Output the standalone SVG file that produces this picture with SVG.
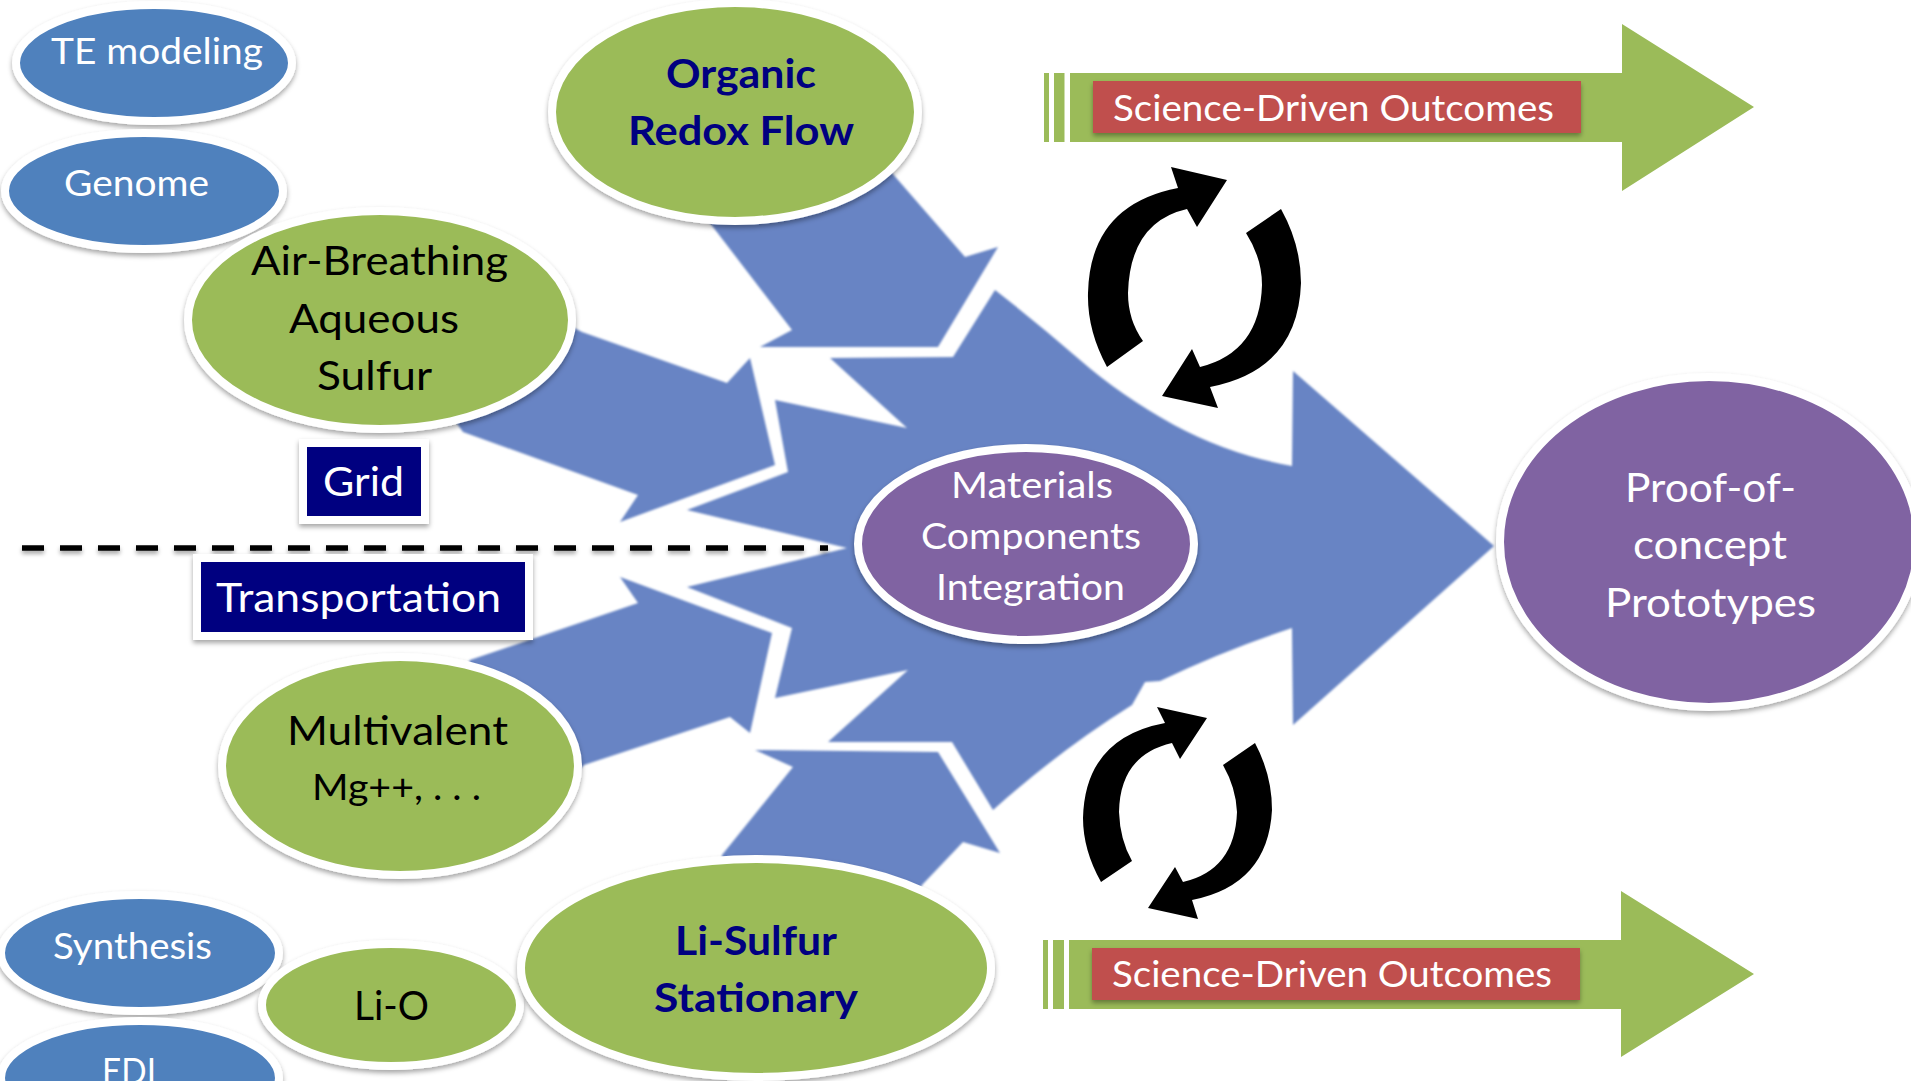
<svg xmlns="http://www.w3.org/2000/svg" width="1911" height="1081" viewBox="0 0 1911 1081">
<defs>
<filter id="sh" x="-15%" y="-15%" width="130%" height="135%"><feDropShadow dx="0" dy="3" stdDeviation="2.5" flood-color="#000" flood-opacity="0.35"/></filter>
<filter id="shl" filterUnits="userSpaceOnUse" x="0" y="530" width="900" height="40"><feDropShadow dx="0" dy="3" stdDeviation="2" flood-color="#000" flood-opacity="0.35"/></filter>
<filter id="soft" x="-5%" y="-5%" width="110%" height="110%"><feGaussianBlur stdDeviation="1"/></filter>
</defs>
<style>
text{font-family:Lato,"Liberation Sans",sans-serif;font-size:40px}
.s{font-size:36px}
.w{fill:#fff}
.k{fill:#000}
.n{fill:#000080;font-weight:700}
.e{stroke:#fff;stroke-width:8;filter:url(#sh)}
.g{fill:#9BBB59}
.b{fill:#4F81BD}
.p{fill:#8064A2}
.blue{fill:#6784C4}
.tag{fill:#000080;stroke:#fff;stroke-width:8;filter:url(#sh)}
.red{fill:#C0504D;filter:url(#sh)}
.cy{fill:#000}
</style>
<rect width="1911" height="1081" fill="#fff"/>
<g id="connectors">
<g filter="url(#soft)">
<path class="blue" d="M700 210L792 330L760 347L938 347L998 247L965 257L885 165Z"/>
<path class="blue" d="M540 310L582 332L727 383L750 358L775 465L620 522L638 495L463 432L440 400Z"/>
<path class="blue" d="M620 577L638 603L470 660L450 700L560 790L584 765L730 717L750 733L772 633Z"/>
<path class="blue" d="M755 750L938 752L1000 853L963 842L922 885L900 920L722 920L722 855L793 767Z"/>
<path class="blue" d="M995 290Q1040 325 1080 360Q1120 395 1174 425Q1230 455 1292 466L1293 371L1494 546L1293 725L1292 628Q1225 650 1160 681L1145 682L1132 705Q1060 750 993 810L952 742L828 742L908 670L775 698L792 628L687 587L847 548L687 510L788 472L775 400L907 428L830 358L953 357Z"/>
</g>
<line x1="22" y1="548" x2="828" y2="548" stroke="#000" stroke-width="5.5" stroke-dasharray="22 16" filter="url(#shl)"/>
</g>
<g id="outcome-top">
<rect class="g" x="1044" y="73" width="5" height="69"/>
<rect class="g" x="1054" y="73" width="10.500" height="69"/>
<path class="g" d="M1070 73H1622V24L1754 107L1622 191V142H1070Z"/>
<rect class="red" x="1093" y="81" width="488" height="52"/>
<text class="w s" x="1113" y="121" textLength="441" lengthAdjust="spacingAndGlyphs">Science-Driven Outcomes</text>
</g>
<g id="outcome-bottom">
<rect class="g" x="1043" y="940" width="5" height="69"/>
<rect class="g" x="1053" y="940" width="11" height="69"/>
<path class="g" d="M1069 940H1621V891L1754 974L1621 1057V1009H1069Z"/>
<rect class="red" x="1092" y="948" width="488" height="52"/>
<text class="w s" x="1112" y="987" textLength="440" lengthAdjust="spacingAndGlyphs">Science-Driven Outcomes</text>
</g>
<g id="cycle-top">
<path class="cy" d="M1107 367Q1087 330 1088 293Q1090 205 1178 188L1171 167L1227 180L1197 227L1187 209Q1130 222 1128 293Q1128 320 1143 341Z"/>
<path class="cy" d="M1281 209Q1301 245 1301 283Q1298 370 1210 387L1218 408L1162 396L1192 349L1200 367Q1260 352 1262 285Q1262 258 1246 233Z"/>
</g>
<g id="cycle-bottom">
<path class="cy" d="M1101 882Q1083 850 1083 818Q1085 738 1165 723L1157 707L1207 718L1180 759L1172 743Q1120 755 1119 812Q1120 840 1132 861Z"/>
<path class="cy" d="M1255 743Q1272 775 1272 810Q1268 885 1192 900L1198 919L1148 908L1175 867L1183 882Q1235 870 1237 812Q1236 788 1223 765Z"/>
</g>
<g id="te-modeling">
<ellipse class="e b" cx="154" cy="63" rx="138" ry="58"/>
<text class="w s" x="51" y="64" textLength="212" lengthAdjust="spacingAndGlyphs">TE modeling</text>
</g>
<g id="genome">
<ellipse class="e b" cx="144" cy="191" rx="139" ry="58"/>
<text class="w s" x="64" y="196" textLength="145" lengthAdjust="spacingAndGlyphs">Genome</text>
</g>
<g id="organic-redox-flow">
<ellipse class="e g" cx="735" cy="112" rx="183" ry="109"/>
<text class="n" x="666" y="88" textLength="150" lengthAdjust="spacingAndGlyphs">Organic</text>
<text class="n" x="628" y="145" textLength="226" lengthAdjust="spacingAndGlyphs">Redox Flow</text>
</g>
<g id="air-breathing">
<ellipse class="e g" cx="380" cy="320" rx="192" ry="109"/>
<text class="k" x="251" y="275" textLength="257" lengthAdjust="spacingAndGlyphs">Air-Breathing</text>
<text class="k" x="289" y="333" textLength="170" lengthAdjust="spacingAndGlyphs">Aqueous</text>
<text class="k" x="317" y="390" textLength="115" lengthAdjust="spacingAndGlyphs">Sulfur</text>
</g>
<g id="grid">
<rect class="tag" x="303" y="443" width="122" height="77"/>
<text class="w" x="323" y="496" textLength="81" lengthAdjust="spacingAndGlyphs">Grid</text>
</g>
<g id="transportation">
<rect class="tag" x="197" y="558" width="332" height="78"/>
<text class="w" x="216" y="612" textLength="285" lengthAdjust="spacingAndGlyphs">Transportation</text>
</g>
<g id="multivalent">
<ellipse class="e g" cx="400" cy="766" rx="178" ry="109"/>
<text class="k" x="287" y="745" textLength="221" lengthAdjust="spacingAndGlyphs">Multivalent</text>
<text class="k s" x="312" y="800" textLength="169" lengthAdjust="spacingAndGlyphs">Mg++, . . .</text>
</g>
<g id="synthesis">
<ellipse class="e b" cx="140" cy="953" rx="139" ry="58"/>
<text class="w s" x="53" y="959" textLength="159" lengthAdjust="spacingAndGlyphs">Synthesis</text>
</g>
<g id="edi">
<ellipse class="e b" cx="140" cy="1078" rx="139" ry="57"/>
<text class="w s" x="102" y="1084" textLength="54" lengthAdjust="spacingAndGlyphs">EDI</text>
</g>
<g id="li-o">
<ellipse class="e g" cx="391" cy="1005" rx="129" ry="61"/>
<text class="k" x="354" y="1020" textLength="75" lengthAdjust="spacingAndGlyphs">Li-O</text>
</g>
<g id="li-sulfur">
<ellipse class="e g" cx="756" cy="968" rx="235" ry="109"/>
<text class="n" x="675" y="955" textLength="162" lengthAdjust="spacingAndGlyphs">Li-Sulfur</text>
<text class="n" x="654" y="1012" textLength="204" lengthAdjust="spacingAndGlyphs">Stationary</text>
</g>
<g id="materials">
<ellipse class="e p" cx="1026" cy="544" rx="168" ry="96"/>
<text class="w s" x="951" y="498" textLength="162" lengthAdjust="spacingAndGlyphs">Materials</text>
<text class="w s" x="921" y="549" textLength="220" lengthAdjust="spacingAndGlyphs">Components</text>
<text class="w s" x="936" y="600" textLength="189" lengthAdjust="spacingAndGlyphs">Integration</text>
</g>
<g id="proof-of-concept">
<ellipse class="e p" cx="1709" cy="542" rx="209" ry="165"/>
<text class="w" x="1625" y="502" textLength="171" lengthAdjust="spacingAndGlyphs">Proof-of-</text>
<text class="w" x="1633" y="559" textLength="154" lengthAdjust="spacingAndGlyphs">concept</text>
<text class="w" x="1605" y="617" textLength="211" lengthAdjust="spacingAndGlyphs">Prototypes</text>
</g>
</svg>
